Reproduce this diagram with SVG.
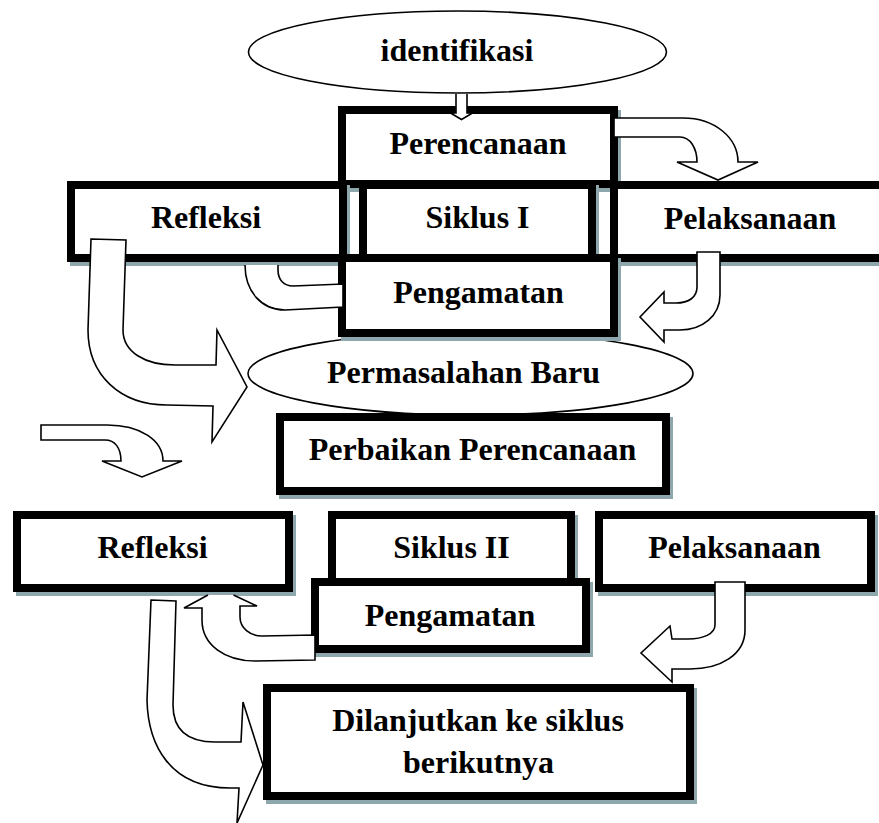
<svg xmlns="http://www.w3.org/2000/svg" width="879" height="823" viewBox="0 0 879 823">
<style>
.bx{fill:#fff;stroke:#000;stroke-width:8}
.sh{fill:none;stroke:#8ea7ad;stroke-width:8}
.el{fill:#fff;stroke:#000;stroke-width:1.6}
.ar{fill:#fff;stroke:#000;stroke-width:1.6;stroke-linejoin:miter}
text{font-family:"Liberation Serif","Times New Roman",serif;font-weight:bold;font-size:32px;text-anchor:middle;fill:#000}
</style>
<rect width="879" height="823" fill="#fff"/>
<g id="identifikasi">
<ellipse class="el" cx="457.5" cy="52" rx="209" ry="41"/>
<text x="457" y="61">identifikasi</text>
</g>
<g id="perencanaan">
<rect class="sh" x="345" y="114" width="272" height="74"/>
<rect class="bx" x="342" y="110" width="272" height="74"/>
<text x="478" y="154">Perencanaan</text>
</g>
<g id="refleksi1">
<rect class="sh" x="74" y="189" width="272" height="73"/>
<rect class="bx" x="71" y="185" width="272" height="73"/>
<text x="206" y="228">Refleksi</text>
</g>
<g id="siklus1">
<rect class="sh" x="366" y="189" width="229" height="73"/>
<rect class="bx" x="363" y="185" width="229" height="73"/>
<text x="477.5" y="228">Siklus I</text>
</g>
<g id="pelaksanaan1">
<rect class="sh" x="617" y="189" width="280" height="73"/>
<rect class="bx" x="614" y="185" width="280" height="73"/>
<text x="750" y="229">Pelaksanaan</text>
</g>
<g id="permasalahan">
<ellipse class="el" cx="470.5" cy="373.5" rx="222.5" ry="41.5"/>
<text x="463.5" y="383">Permasalahan Baru</text>
</g>
<g id="pengamatan1">
<rect class="sh" x="345" y="262" width="272" height="75"/>
<rect class="bx" x="342" y="258" width="272" height="75"/>
<text x="478.5" y="303">Pengamatan</text>
</g>
<g id="perbaikan">
<rect class="sh" x="283" y="421" width="386" height="74"/>
<rect class="bx" x="280" y="417" width="386" height="74"/>
<text x="472.5" y="460">Perbaikan Perencanaan</text>
</g>
<g id="refleksi2">
<rect class="sh" x="20" y="519" width="272" height="73"/>
<rect class="bx" x="17" y="515" width="272" height="73"/>
<text x="152.5" y="558">Refleksi</text>
</g>
<g id="siklus2">
<rect class="sh" x="335" y="519" width="239" height="70"/>
<rect class="bx" x="332" y="515" width="239" height="70"/>
<text x="451.5" y="558">Siklus II</text>
</g>
<g id="pelaksanaan2">
<rect class="sh" x="602" y="519" width="272" height="73"/>
<rect class="bx" x="599" y="515" width="272" height="73"/>
<text x="734.5" y="558">Pelaksanaan</text>
</g>
<g id="pengamatan2">
<rect class="sh" x="318" y="586" width="271" height="67"/>
<rect class="bx" x="315" y="582" width="271" height="67"/>
<text x="450" y="626">Pengamatan</text>
</g>
<g id="dilanjutkan">
<rect class="sh" x="270" y="692" width="423" height="108"/>
<rect class="bx" x="267" y="688" width="423" height="108"/>
<text x="478" y="731">Dilanjutkan ke siklus</text>
<text x="478.5" y="773">berikutnya</text>
</g>
<g id="connectors">
<path class="ar" d="M456,94 L456,113 L450.5,113 L461.5,119.5 L472.5,113 L467,113 L467,94"/>
<path class="ar" d="M614,118 L683,118 C715,118 738,138 738,162 L758,162 L718,180 L677,162 L697,162 C697,148 690,137 680,137 L614,137 Z"/>
<path class="ar" d="M697,252 L720,252 L720,295 C720,316 702,330 680,330 L664,330 L664,342 L640,317 L664,292 L664,303 L676,303 C689,303 697,297 697,287 Z"/>
<path class="ar" d="M278,265 L278,270 C278,280 284,286 293,286 L343,284 L343,307 L285,310 C262,310 245,292 245,265"/>
<path class="ar" d="M91,239 L126,240 L123,330 C123,352 145,365 175,365 L216,365 L217,330 L247,387 L212,442 L213,406 L167,405 C120,405 88,375 88,330 Z"/>
<path class="ar" d="M41,425 L107,425 C140,425 163,440 163,461 L182,461 L142,477 L102,461 L121,461 C121,448 115,440 105,440 L41,440 Z"/>
<path class="ar" d="M208,595 L184,608 L202,608 L202,620 C202,645 225,661 255,661 L315,660 L315,635 L262,636 C250,636 240,628 240,617 L240,606 L257,606 L233.5,595"/>
<path class="ar" d="M715,582 L745,582 L745,630 C745,655 720,669 690,669 L672,669 L672,682 L641,653 L670,626 L672,639 L688,639 C703,639 715,634 715,625 Z"/>
<path class="ar" d="M151,600 L176,601 L173,705 C173,728 185,742 215,742 L241,742 L243,702 L263,765 L237,823 L239,788 L230,788 C170,788 148,745 147,700 Z"/>
</g>
</svg>
